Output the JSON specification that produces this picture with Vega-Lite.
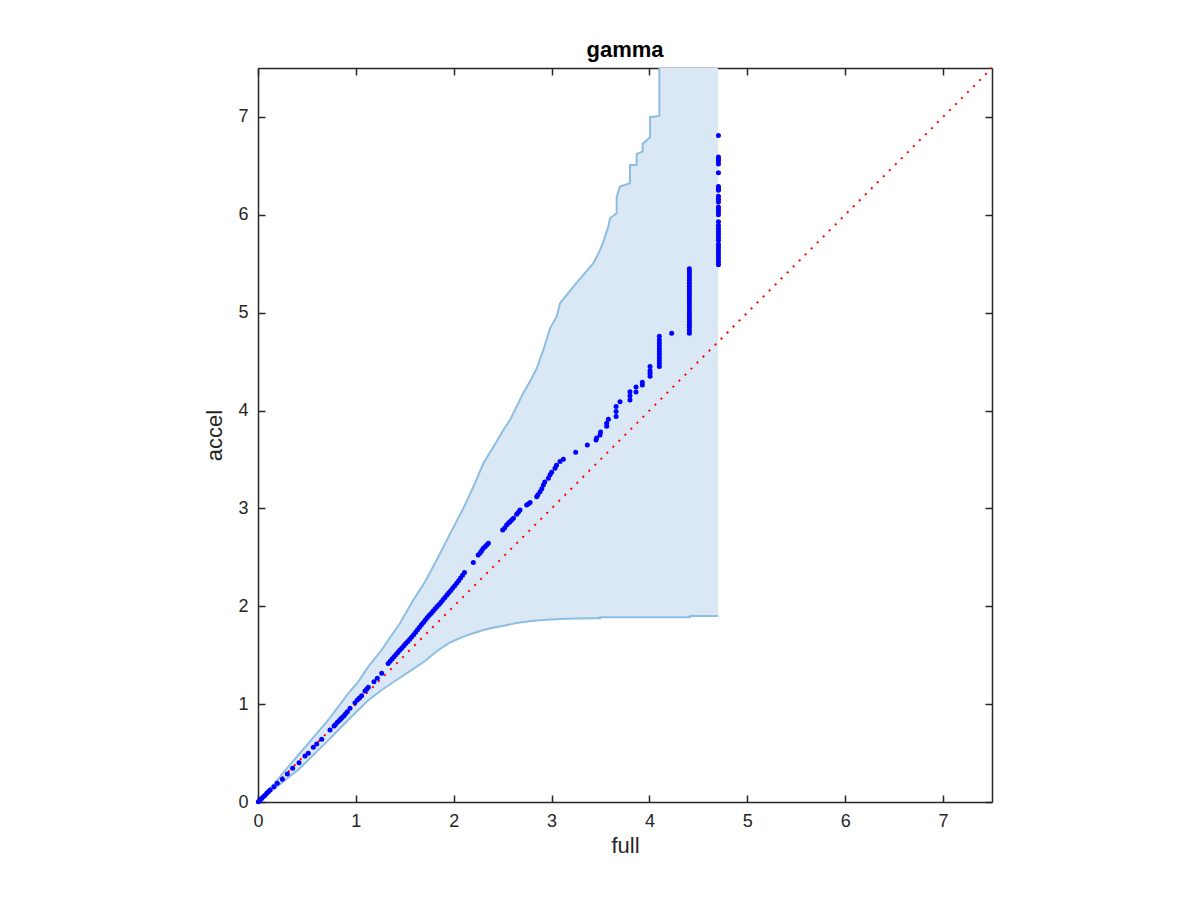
{
  "$schema": "https://vega.github.io/schema/vega-lite/v6.json",
  "autosize": {"type": "none"},
  "width": 734,
  "height": 734,
  "padding": {"left": 258, "top": 68, "right": 208, "bottom": 98},
  "background": "white",
  "config": {
    "view": {"stroke": null},
    "font": "Liberation Sans",
    "axis": {
      "domainColor": "#262626",
      "domainWidth": 1.5,
      "tickColor": "#262626",
      "tickWidth": 1.5,
      "tickSize": -7,
      "labelColor": "#262626",
      "labelFont": "Liberation Sans",
      "labelFontSize": 18,
      "labelFlush": false,
      "titleColor": "#262626",
      "titleFont": "Liberation Sans",
      "titleFontSize": 22,
      "titleFontWeight": "normal",
      "grid": false,
      "zindex": 1
    }
  },
  "title": {
    "text": "gamma",
    "font": "Liberation Sans",
    "fontSize": 22,
    "fontWeight": "bold",
    "color": "#000000",
    "anchor": "middle",
    "baseline": "alphabetic",
    "offset": -15
  },
  "datasets": {
    "band": [
      {"i": 0, "x": 0, "lo": 0, "hi": 0},
      {"i": 1, "x": 0.14, "lo": 0.112, "hi": 0.156},
      {"i": 2, "x": 0.31, "lo": 0.25, "hi": 0.361},
      {"i": 3, "x": 0.412, "lo": 0.33, "hi": 0.48},
      {"i": 4, "x": 0.514, "lo": 0.43, "hi": 0.6},
      {"i": 5, "x": 0.616, "lo": 0.53, "hi": 0.72},
      {"i": 6, "x": 0.718, "lo": 0.63, "hi": 0.838},
      {"i": 7, "x": 0.821, "lo": 0.736, "hi": 0.975},
      {"i": 8, "x": 0.923, "lo": 0.84, "hi": 1.111},
      {"i": 9, "x": 1.025, "lo": 0.94, "hi": 1.23},
      {"i": 10, "x": 1.127, "lo": 1.04, "hi": 1.383},
      {"i": 11, "x": 1.264, "lo": 1.145, "hi": 1.553},
      {"i": 12, "x": 1.332, "lo": 1.19, "hi": 1.655},
      {"i": 13, "x": 1.451, "lo": 1.27, "hi": 1.826},
      {"i": 14, "x": 1.587, "lo": 1.36, "hi": 2.064},
      {"i": 15, "x": 1.707, "lo": 1.44, "hi": 2.25},
      {"i": 16, "x": 1.826, "lo": 1.54, "hi": 2.473},
      {"i": 17, "x": 1.962, "lo": 1.63, "hi": 2.74},
      {"i": 18, "x": 2.098, "lo": 1.69, "hi": 3.0},
      {"i": 19, "x": 2.2, "lo": 1.725, "hi": 3.22},
      {"i": 20, "x": 2.303, "lo": 1.758, "hi": 3.461},
      {"i": 21, "x": 2.4, "lo": 1.78, "hi": 3.62},
      {"i": 22, "x": 2.507, "lo": 1.8, "hi": 3.801},
      {"i": 23, "x": 2.575, "lo": 1.815, "hi": 3.903},
      {"i": 24, "x": 2.643, "lo": 1.83, "hi": 4.04},
      {"i": 25, "x": 2.711, "lo": 1.84, "hi": 4.18},
      {"i": 26, "x": 2.78, "lo": 1.848, "hi": 4.3},
      {"i": 27, "x": 2.848, "lo": 1.855, "hi": 4.43},
      {"i": 28, "x": 2.916, "lo": 1.86, "hi": 4.619},
      {"i": 29, "x": 2.984, "lo": 1.865, "hi": 4.84},
      {"i": 30, "x": 3.052, "lo": 1.868, "hi": 4.959},
      {"i": 31, "x": 3.086, "lo": 1.87, "hi": 5.096},
      {"i": 32, "x": 3.25, "lo": 1.874, "hi": 5.3},
      {"i": 33, "x": 3.427, "lo": 1.877, "hi": 5.505},
      {"i": 34, "x": 3.461, "lo": 1.877, "hi": 5.572},
      {"i": 35, "x": 3.495, "lo": 1.877, "hi": 5.64},
      {"i": 36, "x": 3.495, "lo": 1.887, "hi": 5.64},
      {"i": 37, "x": 3.529, "lo": 1.887, "hi": 5.726},
      {"i": 38, "x": 3.58, "lo": 1.887, "hi": 5.879},
      {"i": 39, "x": 3.597, "lo": 1.887, "hi": 5.965},
      {"i": 40, "x": 3.665, "lo": 1.887, "hi": 6.016},
      {"i": 41, "x": 3.665, "lo": 1.887, "hi": 6.186},
      {"i": 42, "x": 3.699, "lo": 1.887, "hi": 6.288},
      {"i": 43, "x": 3.801, "lo": 1.887, "hi": 6.322},
      {"i": 44, "x": 3.801, "lo": 1.887, "hi": 6.509},
      {"i": 45, "x": 3.869, "lo": 1.887, "hi": 6.509},
      {"i": 46, "x": 3.869, "lo": 1.887, "hi": 6.622},
      {"i": 47, "x": 3.93, "lo": 1.887, "hi": 6.645},
      {"i": 48, "x": 3.93, "lo": 1.887, "hi": 6.724},
      {"i": 49, "x": 4.006, "lo": 1.887, "hi": 6.792},
      {"i": 50, "x": 4.006, "lo": 1.887, "hi": 6.997},
      {"i": 51, "x": 4.101, "lo": 1.887, "hi": 7.01},
      {"i": 52, "x": 4.101, "lo": 1.887, "hi": 7.5},
      {"i": 53, "x": 4.414, "lo": 1.887, "hi": 7.5},
      {"i": 54, "x": 4.414, "lo": 1.901, "hi": 7.5},
      {"i": 55, "x": 4.7, "lo": 1.901, "hi": 7.5}
    ],
    "diag": [
      {"x": 0, "y": 0},
      {"x": 7.5, "y": 7.5}
    ],
    "pts": [
      {"full": 0.003, "accel": 0.003}, {"full": 0.02, "accel": 0.02}, {"full": 0.037, "accel": 0.035},
      {"full": 0.054, "accel": 0.054}, {"full": 0.072, "accel": 0.07}, {"full": 0.089, "accel": 0.089},
      {"full": 0.106, "accel": 0.105}, {"full": 0.123, "accel": 0.123}, {"full": 0.163, "accel": 0.157},
      {"full": 0.197, "accel": 0.191}, {"full": 0.249, "accel": 0.232}, {"full": 0.3, "accel": 0.286},
      {"full": 0.354, "accel": 0.344}, {"full": 0.419, "accel": 0.402}, {"full": 0.48, "accel": 0.47},
      {"full": 0.514, "accel": 0.498}, {"full": 0.565, "accel": 0.559}, {"full": 0.6, "accel": 0.593},
      {"full": 0.651, "accel": 0.641}, {"full": 0.736, "accel": 0.736}, {"full": 0.777, "accel": 0.777},
      {"full": 0.79, "accel": 0.79}, {"full": 0.811, "accel": 0.814}, {"full": 0.83, "accel": 0.832},
      {"full": 0.845, "accel": 0.848}, {"full": 0.86, "accel": 0.864}, {"full": 0.879, "accel": 0.882},
      {"full": 0.895, "accel": 0.902}, {"full": 0.913, "accel": 0.923}, {"full": 0.94, "accel": 0.957},
      {"full": 0.991, "accel": 1.015}, {"full": 1.015, "accel": 1.042}, {"full": 1.035, "accel": 1.062},
      {"full": 1.059, "accel": 1.086}, {"full": 1.093, "accel": 1.134}, {"full": 1.11, "accel": 1.152},
      {"full": 1.127, "accel": 1.172}, {"full": 1.185, "accel": 1.229}, {"full": 1.219, "accel": 1.264},
      {"full": 1.264, "accel": 1.315},
      {"full": 1.33, "accel": 1.415}, {"full": 1.35, "accel": 1.438}, {"full": 1.37, "accel": 1.461},
      {"full": 1.39, "accel": 1.483}, {"full": 1.41, "accel": 1.506}, {"full": 1.43, "accel": 1.529},
      {"full": 1.45, "accel": 1.552}, {"full": 1.47, "accel": 1.574}, {"full": 1.49, "accel": 1.597},
      {"full": 1.51, "accel": 1.619}, {"full": 1.53, "accel": 1.641}, {"full": 1.55, "accel": 1.664},
      {"full": 1.57, "accel": 1.687}, {"full": 1.59, "accel": 1.71}, {"full": 1.61, "accel": 1.735},
      {"full": 1.63, "accel": 1.76}, {"full": 1.65, "accel": 1.785}, {"full": 1.67, "accel": 1.81},
      {"full": 1.69, "accel": 1.835}, {"full": 1.71, "accel": 1.86}, {"full": 1.73, "accel": 1.884},
      {"full": 1.75, "accel": 1.907}, {"full": 1.77, "accel": 1.929}, {"full": 1.79, "accel": 1.952},
      {"full": 1.81, "accel": 1.974}, {"full": 1.83, "accel": 1.997}, {"full": 1.85, "accel": 2.019},
      {"full": 1.87, "accel": 2.042}, {"full": 1.89, "accel": 2.066}, {"full": 1.91, "accel": 2.09},
      {"full": 1.93, "accel": 2.114}, {"full": 1.95, "accel": 2.138}, {"full": 1.97, "accel": 2.162},
      {"full": 1.99, "accel": 2.186}, {"full": 2.01, "accel": 2.21}, {"full": 2.03, "accel": 2.234},
      {"full": 2.05, "accel": 2.262}, {"full": 2.07, "accel": 2.29}, {"full": 2.09, "accel": 2.318},
      {"full": 2.11, "accel": 2.346},
      {"full": 2.2, "accel": 2.446}, {"full": 2.25, "accel": 2.524}, {"full": 2.27, "accel": 2.545},
      {"full": 2.285, "accel": 2.568}, {"full": 2.3, "accel": 2.59}, {"full": 2.32, "accel": 2.609},
      {"full": 2.337, "accel": 2.626}, {"full": 2.354, "accel": 2.644},
      {"full": 2.5, "accel": 2.779}, {"full": 2.52, "accel": 2.8}, {"full": 2.541, "accel": 2.831},
      {"full": 2.56, "accel": 2.85}, {"full": 2.575, "accel": 2.864}, {"full": 2.592, "accel": 2.882},
      {"full": 2.61, "accel": 2.9}, {"full": 2.643, "accel": 2.94}, {"full": 2.66, "accel": 2.96},
      {"full": 2.677, "accel": 2.984}, {"full": 2.745, "accel": 3.035}, {"full": 2.762, "accel": 3.045},
      {"full": 2.78, "accel": 3.06}, {"full": 2.848, "accel": 3.12}, {"full": 2.86, "accel": 3.14},
      {"full": 2.882, "accel": 3.171}, {"full": 2.9, "accel": 3.2}, {"full": 2.916, "accel": 3.239},
      {"full": 2.93, "accel": 3.27}, {"full": 2.967, "accel": 3.307}, {"full": 2.984, "accel": 3.345},
      {"full": 3.0, "accel": 3.37}, {"full": 3.035, "accel": 3.41}, {"full": 3.05, "accel": 3.44},
      {"full": 3.086, "accel": 3.478}, {"full": 3.12, "accel": 3.502},
      {"full": 3.246, "accel": 3.573}, {"full": 3.365, "accel": 3.648}, {"full": 3.454, "accel": 3.7},
      {"full": 3.46, "accel": 3.72}, {"full": 3.495, "accel": 3.75}, {"full": 3.5, "accel": 3.78},
      {"full": 3.563, "accel": 3.84}, {"full": 3.563, "accel": 3.87}, {"full": 3.58, "accel": 3.91},
      {"full": 3.659, "accel": 3.94}, {"full": 3.659, "accel": 3.99}, {"full": 3.659, "accel": 4.04},
      {"full": 3.699, "accel": 4.091}, {"full": 3.801, "accel": 4.108}, {"full": 3.801, "accel": 4.15},
      {"full": 3.801, "accel": 4.193}, {"full": 3.863, "accel": 4.19}, {"full": 3.863, "accel": 4.24},
      {"full": 3.927, "accel": 4.26}, {"full": 3.927, "accel": 4.29}, {"full": 4.006, "accel": 4.35},
      {"full": 4.006, "accel": 4.38}, {"full": 4.006, "accel": 4.41}, {"full": 4.006, "accel": 4.45},
      {"full": 4.101, "accel": 4.45}, {"full": 4.101, "accel": 4.48}, {"full": 4.101, "accel": 4.51},
      {"full": 4.101, "accel": 4.54}, {"full": 4.101, "accel": 4.57}, {"full": 4.101, "accel": 4.6},
      {"full": 4.101, "accel": 4.63}, {"full": 4.101, "accel": 4.66}, {"full": 4.101, "accel": 4.69},
      {"full": 4.101, "accel": 4.72}, {"full": 4.101, "accel": 4.76},
      {"full": 4.227, "accel": 4.789},
      {"full": 4.408, "accel": 4.79}, {"full": 4.408, "accel": 4.82}, {"full": 4.408, "accel": 4.85},
      {"full": 4.408, "accel": 4.88}, {"full": 4.408, "accel": 4.91}, {"full": 4.408, "accel": 4.94},
      {"full": 4.408, "accel": 4.97}, {"full": 4.408, "accel": 5.0}, {"full": 4.408, "accel": 5.03},
      {"full": 4.408, "accel": 5.06}, {"full": 4.408, "accel": 5.09}, {"full": 4.408, "accel": 5.12},
      {"full": 4.408, "accel": 5.15}, {"full": 4.408, "accel": 5.18}, {"full": 4.408, "accel": 5.21},
      {"full": 4.408, "accel": 5.24}, {"full": 4.408, "accel": 5.27}, {"full": 4.408, "accel": 5.3},
      {"full": 4.408, "accel": 5.33}, {"full": 4.408, "accel": 5.36}, {"full": 4.408, "accel": 5.39},
      {"full": 4.408, "accel": 5.42}, {"full": 4.408, "accel": 5.45},
      {"full": 4.705, "accel": 5.49}, {"full": 4.705, "accel": 5.52}, {"full": 4.705, "accel": 5.55},
      {"full": 4.705, "accel": 5.58}, {"full": 4.705, "accel": 5.61}, {"full": 4.705, "accel": 5.64},
      {"full": 4.705, "accel": 5.67}, {"full": 4.705, "accel": 5.7}, {"full": 4.705, "accel": 5.74},
      {"full": 4.705, "accel": 5.77}, {"full": 4.705, "accel": 5.8}, {"full": 4.705, "accel": 5.83},
      {"full": 4.705, "accel": 5.86}, {"full": 4.705, "accel": 5.89}, {"full": 4.705, "accel": 5.93},
      {"full": 4.705, "accel": 6.0}, {"full": 4.705, "accel": 6.03}, {"full": 4.705, "accel": 6.06},
      {"full": 4.705, "accel": 6.08}, {"full": 4.705, "accel": 6.13}, {"full": 4.705, "accel": 6.16},
      {"full": 4.705, "accel": 6.19}, {"full": 4.705, "accel": 6.25}, {"full": 4.705, "accel": 6.27},
      {"full": 4.705, "accel": 6.29}, {"full": 4.705, "accel": 6.43}, {"full": 4.705, "accel": 6.52},
      {"full": 4.705, "accel": 6.55}, {"full": 4.705, "accel": 6.57}, {"full": 4.705, "accel": 6.59},
      {"full": 4.705, "accel": 6.81}
    ]
  },
  "resolve": {"axis": {"x": "independent", "y": "independent"}},
  "layer": [
    {
      "data": {"name": "band"},
      "mark": {"type": "area", "fill": "#d9e8f4", "opacity": 1, "clip": true},
      "encoding": {
        "x": {"field": "x", "type": "quantitative",
              "scale": {"domain": [0, 7.5], "nice": false, "zero": false},
              "axis": {"orient": "bottom", "title": "full", "values": [0, 1, 2, 3, 4, 5, 6, 7],
                       "format": "d", "labelPadding": 17, "titlePadding": 5}},
        "y": {"field": "hi", "type": "quantitative", "stack": null,
              "scale": {"domain": [0, 7.5], "nice": false, "zero": false},
              "axis": {"orient": "left", "title": "accel", "values": [0, 1, 2, 3, 4, 5, 6, 7],
                       "format": "d", "labelPadding": 17, "titlePadding": 11}},
        "y2": {"field": "lo"}
      }
    },
    {
      "data": {"name": "band"},
      "transform": [{"filter": "datum.i <= 52"}],
      "mark": {"type": "line", "stroke": "#8dbee2", "strokeWidth": 2, "clip": true},
      "encoding": {
        "x": {"field": "x", "type": "quantitative", "axis": null},
        "y": {"field": "hi", "type": "quantitative", "axis": null},
        "order": {"field": "i", "type": "quantitative"}
      }
    },
    {
      "data": {"name": "band"},
      "mark": {"type": "line", "stroke": "#8dbee2", "strokeWidth": 2, "clip": true},
      "encoding": {
        "x": {"field": "x", "type": "quantitative", "axis": null},
        "y": {"field": "lo", "type": "quantitative", "axis": null},
        "order": {"field": "i", "type": "quantitative"}
      }
    },
    {
      "data": {"name": "diag"},
      "mark": {"type": "line", "stroke": "#ff0000", "strokeWidth": 2, "strokeDash": [2, 6.5]},
      "encoding": {
        "x": {"field": "x", "type": "quantitative",
              "axis": {"orient": "top", "title": null, "labels": false, "values": [0, 1, 2, 3, 4, 5, 6, 7]}},
        "y": {"field": "y", "type": "quantitative",
              "axis": {"orient": "right", "title": null, "labels": false, "values": [0, 1, 2, 3, 4, 5, 6, 7]}}
      }
    },
    {
      "data": {"name": "pts"},
      "mark": {"type": "circle", "color": "#0000ff", "opacity": 1, "size": 25},
      "encoding": {
        "x": {"field": "full", "type": "quantitative", "axis": null},
        "y": {"field": "accel", "type": "quantitative", "axis": null}
      }
    }
  ]
}
